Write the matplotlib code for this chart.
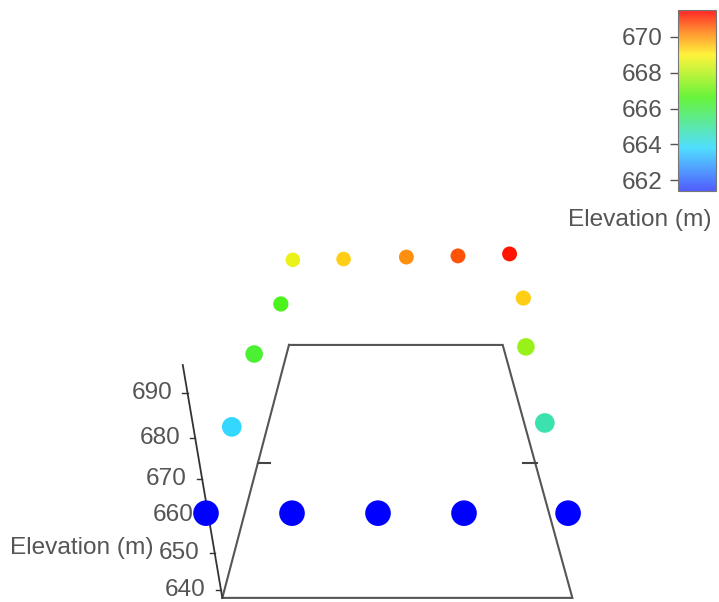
import numpy as np
import matplotlib
matplotlib.use('Agg')
import matplotlib.pyplot as plt
from matplotlib.colors import LinearSegmentedColormap, Normalize
from matplotlib.cm import ScalarMappable

plt.rcParams['font.family'] = ['Liberation Sans', 'DejaVu Sans']

# survey points: horizontal offset (m), plotted height (m), measured elevation (m)
base_x = [-20.0, -10.0, 0.0, 10.0, 22.1]
base_h = [659.5, 659.5, 659.5, 659.5, 659.5]
base_elev = [660, 660, 660, 660, 660]

arch_x = [-17.0, -14.4, -11.3, -9.9, -4.0, 3.3, 9.3, 15.3, 16.9, 17.2, 19.4]
arch_h = [681.4, 699.9, 712.6, 723.8, 724.0, 724.5, 724.8, 725.3, 714.1, 701.7, 682.4]
arch_elev = [663.8, 666.3, 666.6, 668.7, 669.4, 670.1, 670.7, 671.3, 669.4, 667.6, 664.8]

# section outline (x, height)
section_x = [-10.35, 14.5, 22.6, -18.1, -10.35]
section_h = [702.2, 702.2, 638.0, 638.0, 702.2]

elev_ticks = [640, 650, 660, 670, 680, 690]
tick_px = [590, 553, 515, 479, 438, 393]   # where the labels sit on the slanted axis
cbar_ticks = [662, 664, 666, 668, 670]

vmin, vmax = 661.4, 671.5
cmap = LinearSegmentedColormap.from_list('elev', [
    (0.0, (0.2, 0.25, 1.0)),
    (0.238, (0.2, 0.85, 1.0)),
    (0.515, (0.3, 0.95, 0.1)),
    (0.752, (1.0, 0.95, 0.1)),
    (0.88, (1.0, 0.5, 0.05)),
    (1.0, (1.0, 0.0, 0.0)),
])
cmap.set_under('#0000ff')
norm = Normalize(vmin, vmax)

fig = plt.figure(figsize=(7.19, 6.02), dpi=100)
ax = fig.add_axes([0, 0, 1, 1])
ax.set_xlim(-378 / 8.6, 341 / 8.6)
ax.set_ylim(690 - 209 / 3.94, 690 + 393 / 3.94)
ax.axis('off')

def px_to_h(py):
    return 690 - (py - 393) / 3.94

# outline
ax.plot(section_x, section_h, color='#555555', lw=1.5, solid_joinstyle='miter')

# slanted elevation axis
ax.plot([-22.7, -18.1], [697.1, 638.0], color='#333333', lw=1.3)
for t, py in zip(elev_ticks, tick_px):
    h = px_to_h(py)
    xa = -22.7 + (697.1 - h) / (697.1 - 638.0) * 4.6
    ax.plot([xa - 0.6, xa], [h, h], color='#333333', lw=1.0)
    ax.text(xa - 1.75, h, str(t), ha='right', va='center', fontsize=17.6, color='#555555')
ax.text(-42.8, px_to_h(548), 'Elevation (m)', ha='left', va='center', fontsize=17.6, color='#555555')

# small marks on the section edges
hm = px_to_h(463)
ax.plot([-14.0, -12.6], [hm, hm], color='#444444', lw=1.5)
ax.plot([16.9, 18.5], [hm, hm], color='#444444', lw=1.5)

arch_sizes = [200, 160, 120, 110, 110, 115, 115, 115, 120, 160, 200]
ax.scatter(arch_x, arch_h, c=arch_elev, cmap=cmap, norm=norm, s=arch_sizes,
           edgecolors='none', zorder=3)
ax.scatter(base_x, base_h, c=base_elev, cmap=cmap, norm=norm, s=340,
           edgecolors='none', zorder=3)

# colour bar
cax = fig.add_axes([678 / 719, 1 - 191 / 602, 38 / 719, 181 / 602])
sm = ScalarMappable(norm=norm, cmap=cmap)
cb = fig.colorbar(sm, cax=cax, alpha=0.85)
cb.set_ticks(cbar_ticks)
cax.yaxis.set_ticks_position('left')
cax.tick_params(labelsize=17.6, colors='#555555', length=6, width=1, pad=5)
cb.outline.set_edgecolor('#777777')
fig.text(640 / 719, 1 - 220 / 602, 'Elevation (m)', ha='center', va='center',
         fontsize=17.6, color='#555555')

fig.savefig('out.png', dpi=100)
